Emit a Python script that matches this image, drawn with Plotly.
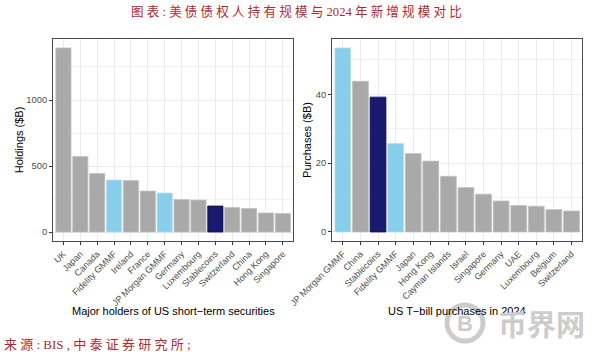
import plotly.graph_objects as go
from plotly.subplots import make_subplots

holders = ["UK","Japan","Canada","Fidelity GMMF","Ireland","France","JP Morgan GMMF","Germany","Luxembourg","Stablecoins","Switzerland","China","Hong Kong","Singapore"]
holdings = [1394,572,443,394,390,310,295,246,242,197,185,178,144,140]
buyers = ["JP Morgan GMMF","China","Stablecoins","Fidelity GMMF","Japan","Hong Kong","Cayman Islands","Israel","Singapore","Germany","UAE","Luxembourg","Belgium","Switzerland"]
purchases = [53.5,43.8,39.2,25.7,22.8,20.6,16.2,12.9,11.0,9.0,7.7,7.5,6.5,6.1]

GRAY, SKY, NAVY = "#A9A9A9", "#87CEEB", "#191970"
W, H = 600, 358
def fill(n):
    return NAVY if n == "Stablecoins" else SKY if "GMMF" in n else GRAY
def edge(n):
    return "#0c0c50" if n == "Stablecoins" else "#c0dcea" if "GMMF" in n else "#c2c2c2"

fig = make_subplots(rows=1, cols=2)
for col, names, vals in [(1, holders, holdings), (2, buyers, purchases)]:
    fig.add_trace(go.Bar(x=names, y=vals, width=0.9, showlegend=False,
                         marker=dict(color=[fill(n) for n in names],
                                     line=dict(color=[edge(n) for n in names], width=0.8))),
                  row=1, col=col)

FONT = "Liberation Sans, Arial, sans-serif"
def xax(x0, x1):
    return dict(domain=[x0/W, x1/W], type="category", range=[-0.6, 13.6], tickangle=-45,
                showgrid=True, gridcolor="#ebebeb", gridwidth=1, ticks="outside", ticklen=3,
                tickcolor="#333333", tickfont=dict(size=9, color="#4d4d4d", family=FONT),
                showline=True, linecolor="#4a4a4a", linewidth=1.4, mirror=True, zeroline=False)
def yax(top, dtick, minor, title, standoff):
    return dict(domain=[1-241/H, 1-39/H], range=top, dtick=dtick, tick0=0,
                minor=dict(showgrid=True, gridcolor="#f1f1f1", gridwidth=0.8, dtick=minor, tick0=0, ticks=""),
                showgrid=True, gridcolor="#ebebeb", gridwidth=1, ticks="outside", ticklen=3,
                tickcolor="#333333", tickfont=dict(size=9.4, color="#4d4d4d", family=FONT),
                showline=True, linecolor="#4a4a4a", linewidth=1.4, mirror=True, zeroline=False,
                title=dict(text=title, font=dict(size=11, color="#000000", family=FONT), standoff=standoff))

fig.update_layout(
    width=W, height=H, margin=dict(l=0, r=0, t=0, b=0, autoexpand=False),
    paper_bgcolor="white", plot_bgcolor="white", bargap=0.1,
    xaxis=xax(53.3, 293), xaxis2=xax(332.3, 582),
    yaxis=yax([-68, 1462], 500, 250, "Holdings ($B)", 0),
    yaxis2=yax([-2.62, 56.1], 20, 10, "Purchases ($B)", 1),
)

def note(text, x, y, size, color, family, xanchor="center"):
    fig.add_annotation(text=text, x=x/W, y=1-y/H, xref="paper", yref="paper", showarrow=False,
                       xanchor=xanchor, yanchor="middle",
                       font=dict(size=size, color=color, family=family))

SERIF = "Liberation Serif, Noto Sans CJK SC, serif"
RED = "#b02a30"
note("图 表 : 美 债 债 权 人 持 有 规 模 与 2024 年 新 增 规 模 对 比", 296, 12, 12.6, RED, SERIF)
note("来 源 : BIS , 中 泰 证 券 研 究 所 ;", 2, 344, 13, RED, SERIF, xanchor="left")
note("Major holders of US short−term securities", 173, 311, 11, "#000000", FONT)
note("US T−bill purchases in 2024", 457, 311, 11, "#000000", FONT)

# watermark
fig.add_shape(type="circle", xref="paper", yref="paper", x0=(465-18)/W, x1=(465+18)/W,
              y0=1-(323+18)/H, y1=1-(323-18)/H, line=dict(color="#cccccc", width=5), layer="above")
note("<b>B</b>", 465, 323, 22, "#cccccc", FONT)
note("<b>币界网</b>", 541, 323, 29, "#cccccc", "Noto Sans CJK SC")

fig.write_html("out.html", config={"displayModeBar": False},
               post_script="document.body.style.margin='0';")
